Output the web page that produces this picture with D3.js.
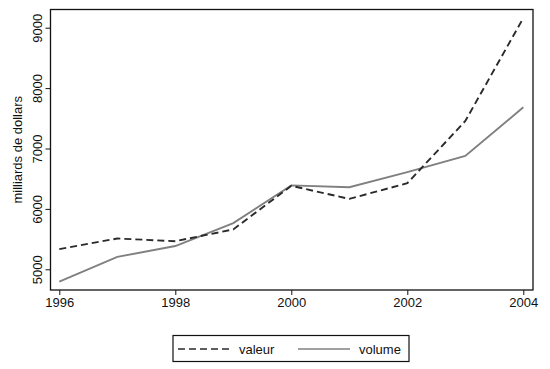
<!DOCTYPE html>
<html lang="fr">
<head>
<meta charset="utf-8">
<title>valeur / volume</title>
<script src="https://d3js.org/d3.v7.min.js"></script>
<style>
  body { margin: 0; background: #fff; }
  svg text { font-family: "Liberation Sans", Arial, sans-serif; font-size: 13px; fill: #111; }
  .axis path, .axis line { stroke: #111; }
</style>
</head>
<body>
<script>
// data
var years  = [1996, 1997, 1998, 1999, 2000, 2001, 2002, 2003, 2004];
var valeur = [5335, 5510, 5465, 5660, 6382, 6166, 6425, 7455, 9160];
var volume = [4795, 5205, 5385, 5765, 6390, 6358, 6610, 6876, 7682];
var xTicks = [1996, 1998, 2000, 2002, 2004];
var yTicks = [5000, 6000, 7000, 8000, 9000];

var w = 550, h = 369;
// plot frame (note: "top" is reserved on window, so use pTop etc.)
var pLeft = 50.5, pRight = 533, pTop = 9.5, pBottom = 290;

var svg = d3.select("body").append("svg")
    .attr("width", w)
    .attr("height", h);

var x = d3.scaleLinear().domain([1996, 2004]).range([59.3, 523.3]);
var y = d3.scaleLinear().domain([5000, 9000]).range([269.3, 27.7]);

// frame
svg.append("rect")
    .attr("x", pLeft).attr("y", pTop)
    .attr("width", pRight - pLeft).attr("height", pBottom - pTop)
    .attr("fill", "none").attr("stroke", "#111").attr("stroke-width", 1.3);

// axes
var xAxis = d3.axisBottom(x).tickValues(xTicks).tickFormat(d3.format("d")).tickSize(5).tickPadding(3);
var gx = svg.append("g").attr("class", "axis")
    .attr("transform", "translate(0," + pBottom + ")")
    .call(xAxis);
gx.select(".domain").remove();

var yAxis = d3.axisLeft(y).tickValues(yTicks).tickFormat(d3.format("d")).tickSize(5).tickPadding(3);
var gy = svg.append("g").attr("class", "axis")
    .attr("transform", "translate(" + pLeft + ",0)")
    .call(yAxis);
gy.select(".domain").remove();
gy.selectAll(".tick text")
    .attr("x", null).attr("dy", null)
    .attr("transform", "translate(-9,0) rotate(-90)")
    .attr("text-anchor", "middle");

// y title
svg.append("text")
    .attr("transform", "translate(22," + ((pTop + pBottom) / 2) + ") rotate(-90)")
    .attr("text-anchor", "middle")
    .text("milliards de dollars");

// lines
var line = function(vals) {
  return d3.line()
      .x(function(d, i) { return x(years[i]); })
      .y(function(d) { return y(d); })(vals);
};

svg.append("path")
    .attr("d", line(volume))
    .attr("fill", "none")
    .attr("stroke", "#808080")
    .attr("stroke-width", 1.9);

svg.append("path")
    .attr("d", line(valeur))
    .attr("fill", "none")
    .attr("stroke", "#2a2a2a")
    .attr("stroke-width", 1.9)
    .attr("stroke-dasharray", "7,4");

// legend
var lg = svg.append("g");
lg.append("rect")
    .attr("x", 173).attr("y", 335.5)
    .attr("width", 236).attr("height", 26)
    .attr("fill", "#fff").attr("stroke", "#111").attr("stroke-width", 1.2);
lg.append("line")
    .attr("x1", 178).attr("x2", 232).attr("y1", 349).attr("y2", 349)
    .attr("stroke", "#2a2a2a").attr("stroke-width", 1.5).attr("stroke-dasharray", "7,4");
lg.append("text").attr("x", 239).attr("y", 353.5).text("valeur");
lg.append("line")
    .attr("x1", 298).attr("x2", 350).attr("y1", 349).attr("y2", 349)
    .attr("stroke", "#808080").attr("stroke-width", 1.5);
lg.append("text").attr("x", 359).attr("y", 353.5).text("volume");
</script>
</body>
</html>
